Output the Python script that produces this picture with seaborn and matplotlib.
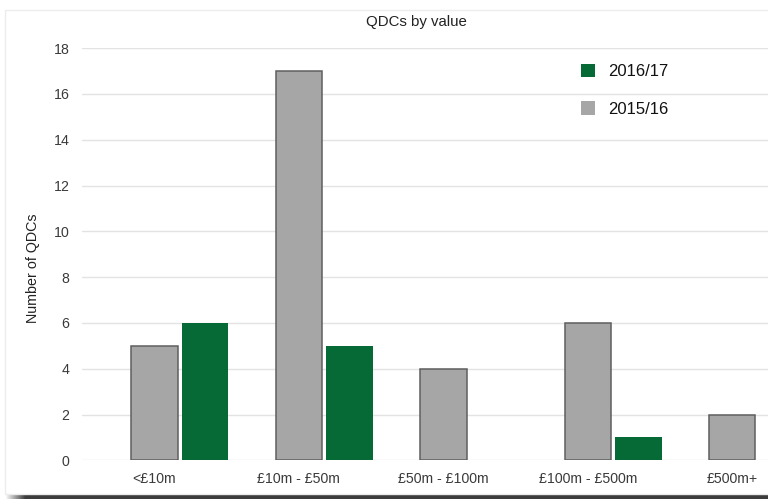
import numpy as np
import pandas as pd
import matplotlib
matplotlib.use("Agg")
import matplotlib.pyplot as plt
from matplotlib.patches import Patch, Rectangle
import seaborn as sns

categories = ["<£10m", "£10m - £50m", "£50m - £100m", "£100m - £500m", "£500m+"]
values_2015_16 = [5, 17, 4, 6, 2]
values_2016_17 = [6, 5, 0, 1, 0]
series_names = ["2015/16", "2016/17"]
y_ticks = [0, 2, 4, 6, 8, 10, 12, 14, 16, 18]

df = pd.DataFrame({
    "category": categories * 2,
    "period": [series_names[0]] * len(categories) + [series_names[1]] * len(categories),
    "count": values_2015_16 + values_2016_17,
})

sns.set_theme(style="white")
plt.rcParams["font.family"] = ["Liberation Sans", "DejaVu Sans"]

W, H = 768, 499
fig = plt.figure(figsize=(W / 100, H / 100), dpi=100)
fig.patch.set_facecolor("white")

# card border + bottom shadow
fig.patches.append(Rectangle((5 / W, 5 / H), 1.2, (H - 15) / H, transform=fig.transFigure,
                             facecolor="none", edgecolor="#ececec", linewidth=1.0, zorder=0))
sh = fig.add_axes([0, 0, 1, 5 / H])
grad = np.ones((1, W))
grad[0, :25] = np.clip((np.arange(25) - 5) / 20, 0, 1)
sh.imshow(grad, aspect="auto", cmap=matplotlib.colors.LinearSegmentedColormap.from_list(
    "s", ["#ffffff", "#3c3c3c"]), vmin=0, vmax=1, extent=(0, 1, 0, 1))
sh.set_axis_off()

left = 82 / W
bottom = 1 - 460.3 / H
top = 1 - 48.1 / H
ax = fig.add_axes([left, bottom, 1 - left, top - bottom])

sns.barplot(data=df, x="category", y="count", hue="period", order=categories,
            hue_order=series_names, palette=["#a6a6a6", "#066a37"],
            width=0.70, gap=0.08, ax=ax, legend=False, saturation=1)

for p in ax.containers[0]:
    p.set_edgecolor("#5f5f5f")
    p.set_linewidth(1.1)
for p in ax.containers[1]:
    p.set_linewidth(0)

centers = [p.get_x() + p.get_width() / 2 for p in ax.containers[0]]
ax.set_xticks(centers)
ax.set_xticklabels(categories)
ax.set_xlim(-0.677, 4.073)
ax.set_ylim(0, 18)
ax.set_yticks(y_ticks)

ax.grid(axis="y", color="#e3e3e3", linewidth=1.0)
ax.set_axisbelow(True)
for s in ax.spines.values():
    s.set_visible(False)
ax.tick_params(axis="both", length=0, labelsize=10.2, colors="#3a3a3a")
ax.tick_params(axis="y", pad=9)
ax.tick_params(axis="x", pad=8.5)
ax.set_xlabel("")
ax.set_ylabel("")

fig.text(33 / W, 1 - 268 / H, "Number of QDCs", rotation=90, ha="center", va="center",
         fontsize=10.3, color="#222222")
fig.text(416 / W, 1 - 22 / H, "QDCs by value", ha="center", va="center",
         fontsize=10.8, color="#222222")

handles = [Patch(facecolor="#066a37", edgecolor="none", label="2016/17"),
           Patch(facecolor="#a6a6a6", edgecolor="none", label="2015/16")]
fig.legend(handles=handles, loc="upper left", bbox_to_anchor=(581 / W, 1 - 63.5 / H),
           frameon=False, fontsize=12, handlelength=0.85, handleheight=0.85,
           handletextpad=0.8, labelspacing=1.35, borderpad=0, borderaxespad=0,
           labelcolor="#111111")

fig.savefig("out.png", dpi=100, facecolor="white")
